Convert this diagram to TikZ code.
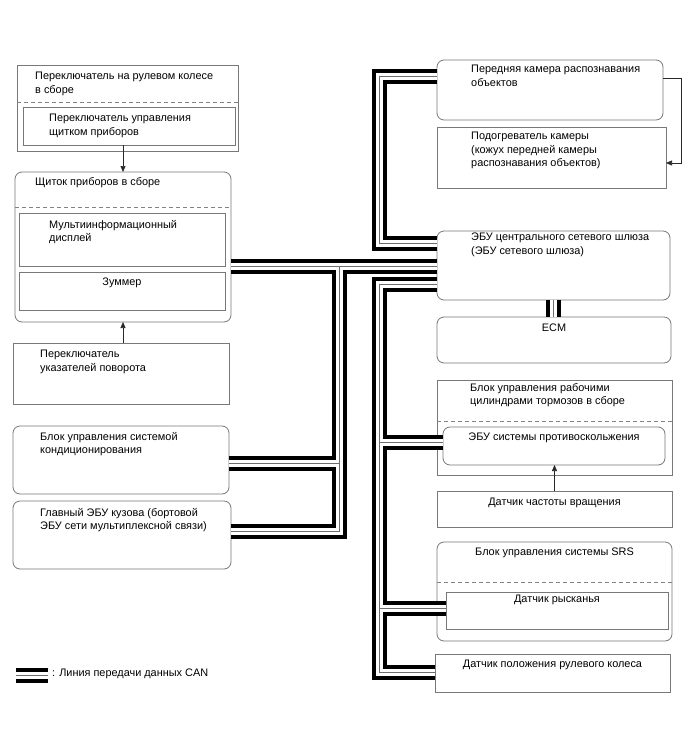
\documentclass[tikz,border=0pt]{standalone}
\usepackage{fontspec}
\setmainfont{Liberation Sans}
\usetikzlibrary{arrows.meta,positioning}
\definecolor{EcuEdge}{RGB}{120,120,120}
\definecolor{EcuDash}{RGB}{130,130,130}
\definecolor{EcuWire}{RGB}{40,40,40}
\definecolor{EcuMid}{RGB}{110,110,110}
\tikzset{
  ecu/box/.style={
    draw=EcuEdge,
    line width=0.8pt,
    fill=white,
    inner sep=0pt,
    outer sep=0pt
  },
  ecu/rbox/.style={ecu/box, rounded corners=7pt},
  ecu/text/.style={inner sep=0pt, align=left, font=\fontsize{10.9}{13.3}\selectfont},
  ecu/ctext/.style={ecu/text, align=center},
  ecu/dash/.style={draw=EcuDash, line width=0.7pt, dash pattern=on 4pt off 3pt},
  ecu/arrow/.style={-{Triangle[length=6pt,width=5pt]}, line width=0.7pt, draw=EcuWire}
}

\begin{document}
\begin{tikzpicture}[x=1pt,y=-1pt]
  \useasboundingbox (0,0) rectangle (688,755);

  % left column
  \node[ecu/box,minimum width=221pt,minimum height=86pt] (swa) at (127.5,108) {};
  \node[ecu/box,minimum width=212pt,minimum height=38pt] (swc) at (129,126) {};
  \node[ecu/rbox,minimum width=216pt,minimum height=150pt] (cluster) at (123,247) {};
  \node[ecu/box,minimum width=206pt,minimum height=53pt] (mid) at (122,239.5) {};
  \node[ecu/box,minimum width=206pt,minimum height=38pt] (buzzer) at (122,291) {};
  \node[ecu/box,minimum width=216pt,minimum height=61pt] (turn) at (121,373.5) {};
  \node[ecu/rbox,minimum width=216pt,minimum height=68pt] (ac) at (121,460) {};
  \node[ecu/rbox,minimum width=218pt,minimum height=68pt] (body) at (122,535) {};

  % right column
  \node[ecu/rbox,minimum width=226pt,minimum height=60pt] (cam) at (550,90) {};
  \node[ecu/box,minimum width=229pt,minimum height=61pt] (heater) at (551.5,157.5) {};
  \node[ecu/rbox,minimum width=233pt,minimum height=69pt] (gw) at (553.5,265.5) {};
  \node[ecu/rbox,minimum width=234pt,minimum height=46pt] (ecm) at (554,340) {};
  \node[ecu/box,minimum width=235pt,minimum height=95pt] (brake) at (554.5,427.5) {};
  \node[ecu/rbox,minimum width=222pt,minimum height=38pt] (skid) at (554,446) {};
  \node[ecu/box,minimum width=235pt,minimum height=36pt] (speed) at (554.5,509) {};
  \node[ecu/rbox,minimum width=235pt,minimum height=99pt] (srs) at (554.5,591.5) {};
  \node[ecu/box,minimum width=222pt,minimum height=37pt] (yaw) at (557,610.5) {};
  \node[ecu/box,minimum width=235pt,minimum height=38pt] (steer) at (552.5,673) {};

  % dashed splits of the assemblies
  \draw[ecu/dash] ([yshift=-37pt]swa.north west) -- ([yshift=-37pt]swa.north east);
  \draw[ecu/dash] ([yshift=-35pt]cluster.north west) -- ([yshift=-35pt]cluster.north east);
  \draw[ecu/dash] ([yshift=-41pt]brake.north west) -- ([yshift=-41pt]brake.north east);
  \draw[ecu/dash] ([yshift=-40pt]srs.north west) -- ([yshift=-40pt]srs.north east);

  % labels
  \node[ecu/text,below right=7pt and 18pt of swa.north west] (swat) {Переключатель на рулевом колесе\\в сборе};
  \node[ecu/text,below right=7pt and 26pt of swc.north west] (swct) {Переключатель управления\\щитком приборов};
  \node[ecu/text,below right=5pt and 20pt of cluster.north west] (clustert) {Щиток приборов в сборе};
  \node[ecu/text,below right=7pt and 30pt of mid.north west] (midt) {Мультиинформационный\\дисплей};
  \node[ecu/ctext,below=6pt of buzzer.north] (buzzert) {Зуммер};
  \node[ecu/text,below right=7pt and 27pt of turn.north west] (turnt) {Переключатель\\указателей поворота};
  \node[ecu/text,below right=6pt and 27pt of ac.north west] (act) {Блок управления системой\\кондиционирования};
  \node[ecu/text,below right=7pt and 27pt of body.north west] (bodyt) {Главный ЭБУ кузова (бортовой\\ЭБУ сети мультиплексной связи)};
  \node[ecu/text,below right=5pt and 34pt of cam.north west] (camt) {Передняя камера распознавания\\объектов};
  \node[ecu/text,below right=5pt and 34pt of heater.north west] (heatert) {Подогреватель камеры\\(кожух передней камеры\\распознавания объектов)};
  \node[ecu/text,below right=2pt and 34pt of gw.north west] (gwt) {ЭБУ центрального сетевого шлюза\\(ЭБУ сетевого шлюза)};
  \node[ecu/ctext,below=7pt of ecm.north] (ecmt) {ECM};
  \node[ecu/text,below right=3pt and 33pt of brake.north west] (braket) {Блок управления рабочими\\цилиндрами тормозов в сборе};
  \node[ecu/ctext,below=6pt of skid.north] (skidt) {ЭБУ системы противоскольжения};
  \node[ecu/ctext,below=7pt of speed.north] (speedt) {Датчик частоты вращения};
  \node[ecu/ctext,below=6pt of srs.north] (srst) {Блок управления системы SRS};
  \node[ecu/ctext,below=3pt of yaw.north] (yawt) {Датчик рысканья};
  \node[ecu/ctext,below=6pt of steer.north] (steert) {Датчик положения рулевого колеса};

  % signal arrows
  \draw[ecu/arrow] (swc.south -| cluster.north) -- (cluster.north);
  \draw[ecu/arrow] (turn.north -| cluster.south) -- (cluster.south);
  \draw[ecu/arrow] (speed.north) -- (speed.north |- skid.south);
  \draw[ecu/arrow] ([yshift=12pt]cam.east) -- ++(18,0) |- ([yshift=-5.5pt]heater.east);

  % CAN bus junctions
  \coordinate (jmain) at (339,266);
  \coordinate (jac) at (339,463);
  \coordinate (jbody) at (339,531);
  \coordinate (jcam) at (379,76);
  \coordinate (jgw) at (379,243);
  \coordinate (jrt) at (379,284);
  \coordinate (jskid) at (379,442);
  \coordinate (jyaw) at (379,608);
  \coordinate (jst) at (379,672);
  \coordinate (legA) at (16,675.5);
  \node[ecu/text,anchor=west] (legt) at (52,674) {: Линия передачи данных CAN};

  % CAN lines: black, white core, thin middle wire
  \foreach \lw/\col in {15/black,7/white,0.9/EcuMid} {
    \draw[line width=\lw pt,\col]
      (cluster.east |- jmain) -- (gw.west |- jmain)
      (jmain) -- (jbody) -- (body.east |- jbody)
      (jac) -- (ac.east |- jac)
      (cam.west |- jcam) -- (jcam) -- (jgw) -- (gw.west |- jgw)
      (gw.west |- jrt) -- (jrt) -- (jst) -- (steer.west |- jst)
      (jskid) -- (skid.west |- jskid)
      (jyaw) -- (yaw.west |- jyaw)
      (gw.south) -- (gw.south |- ecm.north)
      (legA) -- ++(32,0);
  }
\end{tikzpicture}
\end{document}
